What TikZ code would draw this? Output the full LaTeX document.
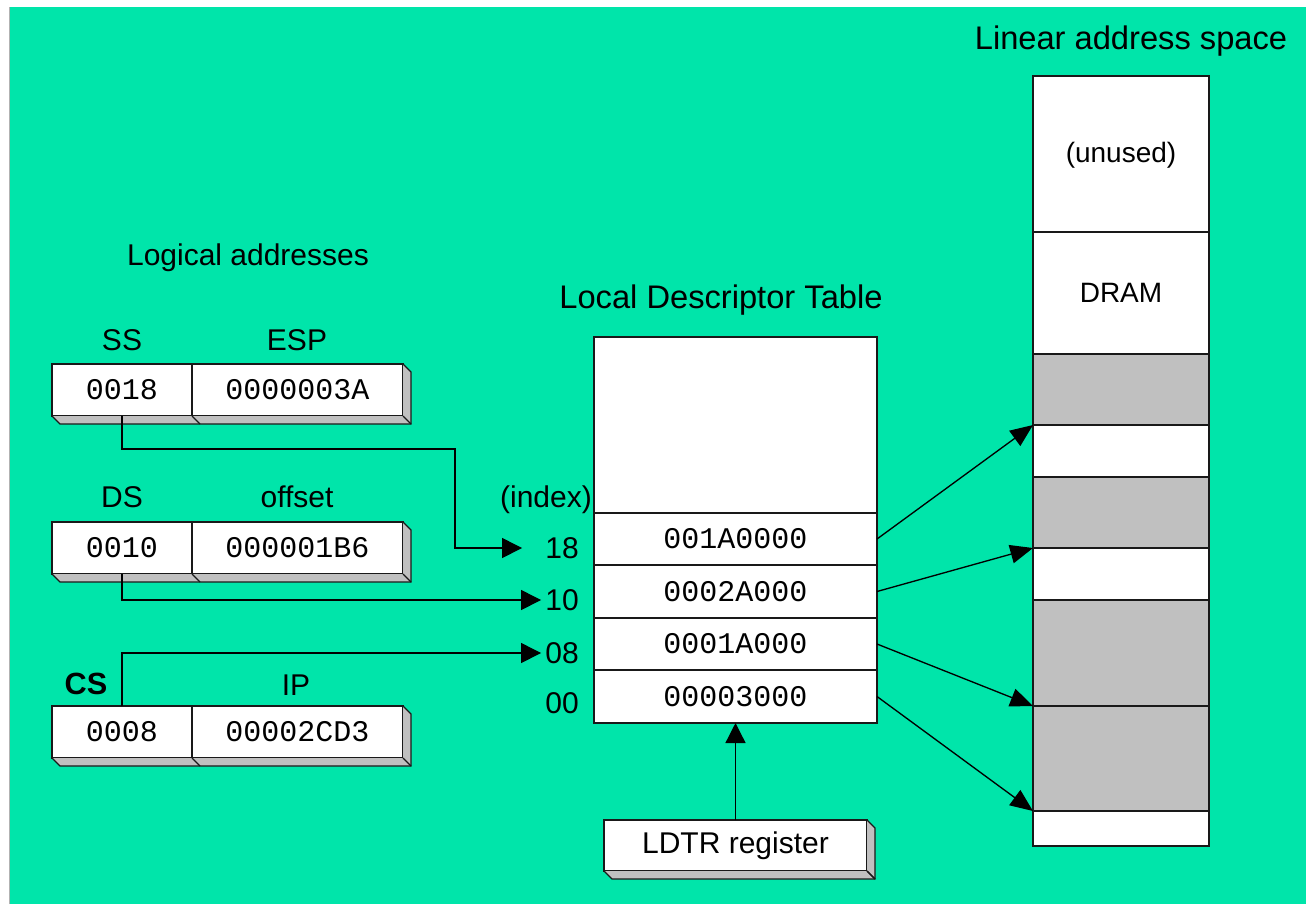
\documentclass[tikz,border=0pt]{standalone}
\usepackage{fontspec}
\setmainfont{Liberation Sans}
\newfontfamily\monof{Liberation Mono}
\usetikzlibrary{arrows.meta}
\definecolor{bgg}{RGB}{0,229,170}
\definecolor{shd}{RGB}{192,192,192}
\newcommand\regshadow[2]{%
  \fill[shd] (#2.north east) -- ++(8,8) -- ([shift={(8,8)}]#2.south east) -- ([shift={(8,8)}]#1.south west) -- (#1.south west) -- (#2.south east) -- cycle;
  \draw[edge] (#2.north east) -- ++(8,8) -- ([shift={(8,8)}]#2.south east) -- ([shift={(8,8)}]#1.south west) -- (#1.south west);
  \draw[edge] (#2.south east) -- ++(8,8);
  \draw[edge] (#1.south east) -- ++(8,8);}
\tikzset{
  edge/.style={draw=black!90, line width=1pt},
  cell/.style={draw=black!90, line width=1pt, fill=white, inner sep=0pt, outer sep=0pt, font=\monof\fontsize{22.5}{27}\selectfont},
  gcell/.style={cell, fill=shd},
  lbl/.style={inner sep=0pt, font=\fontsize{22.5}{27}\selectfont},
  big/.style={inner sep=0pt, font=\fontsize{24.5}{29}\selectfont},
  W/.style={minimum width=#1*0.75pt},
  H/.style={minimum height=#1*0.75pt},
  conn/.style={draw=black, line width=1pt},
  arr/.style={conn, -{Triangle[length=15pt,width=15pt]}},
  arrb/.style={conn, -{Triangle[length=17pt,width=14pt]}},
}
\begin{document}
\begin{tikzpicture}[x=0.75pt,y=-0.75pt]
\useasboundingbox (0,0) rectangle (1306,904);
\fill[white] (0,0) rectangle (1306,904);
\fill[bgg] (9,7) rectangle (1306,904);
\draw[gray!60, line width=0.5pt] (9,904) -- (9,7);

% titles
\node[lbl] (tlog) at (248,258) {Logical addresses};
\node[big] (tldt) at (721,300) {Local Descriptor Table};
\node[big] (tlin) at (1131,41) {Linear address space};

% SS register
\node[cell, W=140, H=52] (ss) at (122,390) {0018};
\node[cell, W=211, H=52] (esp) at (297.5,390) {0000003A};
\regshadow{ss}{esp}
\node[lbl] (lss) at (122,340) {SS};
\node[lbl] (lesp) at (297,340) {ESP};

% DS register
\node[cell, W=140, H=52] (ds) at (122,548) {0010};
\node[cell, W=211, H=52] (off) at (297.5,548) {000001B6};
\regshadow{ds}{off}
\node[lbl] (lds) at (122,497) {DS};
\node[lbl] (loff) at (297,497) {offset};

% CS register
\node[cell, W=140, H=52] (cs) at (122,732) {0008};
\node[cell, W=211, H=52] (ip) at (297.5,732) {00002CD3};
\regshadow{cs}{ip}
\node[lbl, font=\bfseries\fontsize{23}{27}\selectfont] (lcs) at (86,684) {CS};
\node[lbl] (lip) at (296,685) {IP};

% LDT
\node[cell, W=283, H=176] (ldt) at (735.5,425) {};
\node[cell, W=283, H=52] (r18) at (735.5,539) {001A0000};
\node[cell, W=283, H=53] (r10) at (735.5,591.5) {0002A000};
\node[cell, W=283, H=52] (r08) at (735.5,644) {0001A000};
\node[cell, W=283, H=53] (r00) at (735.5,696.5) {00003000};

% index labels
\node[lbl] (idx) at (546,500) {(index)};
\node[lbl] (i18) at (562,548) {18};
\node[lbl] (i10) at (562,600) {10};
\node[lbl] (i08) at (562,653) {08};
\node[lbl] (i00) at (562,703) {00};

% LDTR register
\node[cell, W=263, H=51, font=\fontsize{22.5}{27}\selectfont] (ldtr) at (735.5,845.5) {LDTR register};
\regshadow{ldtr}{ldtr}

% linear address space
\node[cell, W=176, H=158, font=\fontsize{21}{25}\selectfont] (unu) at (1121,155) {(unused)};
\node[cell, W=176, H=122, font=\fontsize{21}{25}\selectfont] (dram) at (1121,293) {DRAM};
\node[gcell, W=176, H=71] (g1) at (1121,389.5) {};
\node[cell, W=176, H=52] (w1) at (1121,451) {};
\node[gcell, W=176, H=71] (g2) at (1121,512.5) {};
\node[cell, W=176, H=52] (w2) at (1121,574) {};
\node[gcell, W=176, H=106] (g3) at (1121,653) {};
\node[gcell, W=176, H=105] (g4) at (1121,758.5) {};
\node[cell, W=176, H=35] (w3) at (1121,828.5) {};

% connectors
\draw[arr] (ss.south) |- (455,449) |- ([shift={(-23,0)}]i18.west);
\draw[arr] (ds.south) |- ([shift={(-4,0)}]i10.west);
\draw[arr] (cs.north) |- ([shift={(-4,0)}]i08.west);
\draw[arr] (ldtr.north) -- (r00.south);
\draw[arrb] (r18.east) -- (w1.north west);
\draw[arrb] (r10.east) -- (w2.north west);
\draw[arrb] (r08.east) -- (g4.north west);
\draw[arrb] (r00.east) -- (w3.north west);
\end{tikzpicture}
\end{document}
